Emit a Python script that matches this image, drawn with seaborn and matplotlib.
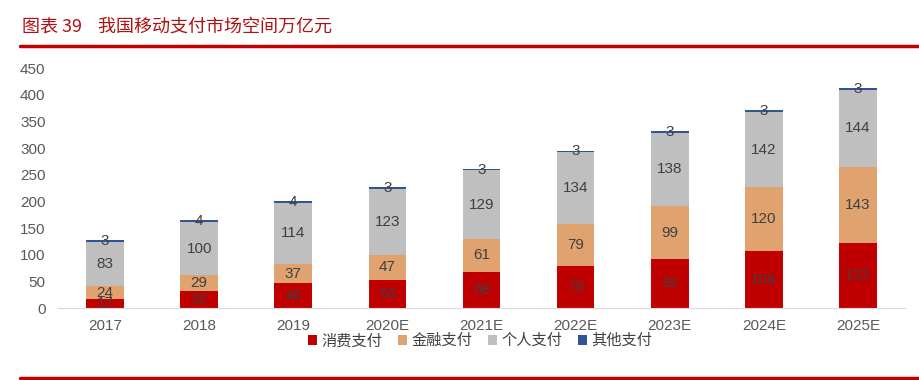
#Stacked bar chart: size of China's mobile payment market (trillion yuan)

# Load Packages=====================================================================================
import numpy as np
import pandas as pd
import seaborn as sns
import matplotlib
matplotlib.use('Agg')
import matplotlib.pyplot as plt
from matplotlib.patches import Patch


# Data==============================================================================================
years = ['2017', '2018', '2019', '2020E', '2021E', '2022E', '2023E', '2024E', '2025E']
consume = [17, 32, 46, 53, 68, 79, 92, 106, 122]
finance = [24, 29, 37, 47, 61, 79, 99, 120, 143]
personal = [83, 100, 114, 123, 129, 134, 138, 142, 144]
other = [3, 4, 4, 3, 3, 3, 3, 3, 3]

series_names = ['消费支付', '金融支付', '个人支付', '其他支付']
series_cols = ['#C00000', '#E0A36F', '#BFBFBF', '#2F5597']


# Build DF===========================================================================================
df = pd.DataFrame({'year': years, 'consume': consume, 'finance': finance,
                   'personal': personal, 'other': other})
parts = ['consume', 'finance', 'personal', 'other']
cum = df[parts].cumsum(axis=1)


# Plot==============================================================================================
sns.set_style('white')
plt.rcParams['font.family'] = ['Liberation Sans', 'Noto Sans CJK SC', 'DejaVu Sans']

fig = plt.figure(figsize=(9.2, 3.8), dpi=100)
ax = fig.add_axes([58/920, 72/380, 847/920, 240/380])

#draw cumulative totals from the top segment down so they stack
for part, col in reversed(list(zip(parts, series_cols))):
  sns.barplot(x=df['year'], y=cum[part], color=col, width=0.4,
              saturation=1, linewidth=0, ax=ax)

#segment labels
for i in range(len(df)):
  for part in parts:
    mid = cum.loc[i, part] - df.loc[i, part] / 2
    ax.text(i, mid, str(df.loc[i, part]), ha='center', va='center',
            fontsize=11, color='#404040')

ax.set_xlim(-0.5, len(years) - 0.5)
ax.set_ylim(0, 450)
ax.set_yticks(np.arange(0, 451, 50))
ax.set_xlabel('')
ax.set_ylabel('')
ax.tick_params(axis='both', length=0, labelsize=11, labelcolor='#595959')
ax.tick_params(axis='y', pad=9)
ax.tick_params(axis='x', pad=8)
for s in ['left', 'top', 'right']:
  ax.spines[s].set_visible(False)
ax.spines['bottom'].set_color('#D9D9D9')

#legend
handles = [Patch(facecolor=c, edgecolor='none') for c in series_cols]
fig.legend(handles, series_names, loc='center', bbox_to_anchor=(480/920, 1 - 341/380),
           ncol=4, frameon=False, fontsize=11, handlelength=0.6, handleheight=0.6,
           handletextpad=0.3, columnspacing=1.0, labelcolor='#404040')

#title and red rules
fig.text(22/920, 1 - 27/380, '图表 39    我国移动支付市场空间万亿元', ha='left', va='center',
         fontsize=13, color='#B01010', family=['Noto Sans CJK SC', 'DejaVu Sans'])
fig.add_artist(plt.Line2D([20/920, 1], [1 - 46/380] * 2, color='#C00000', linewidth=2.5))
fig.add_artist(plt.Line2D([20/920, 1], [1 - 378/380] * 2, color='#C00000', linewidth=2.5))

fig.savefig('out.png', dpi=100)
plt.close()
